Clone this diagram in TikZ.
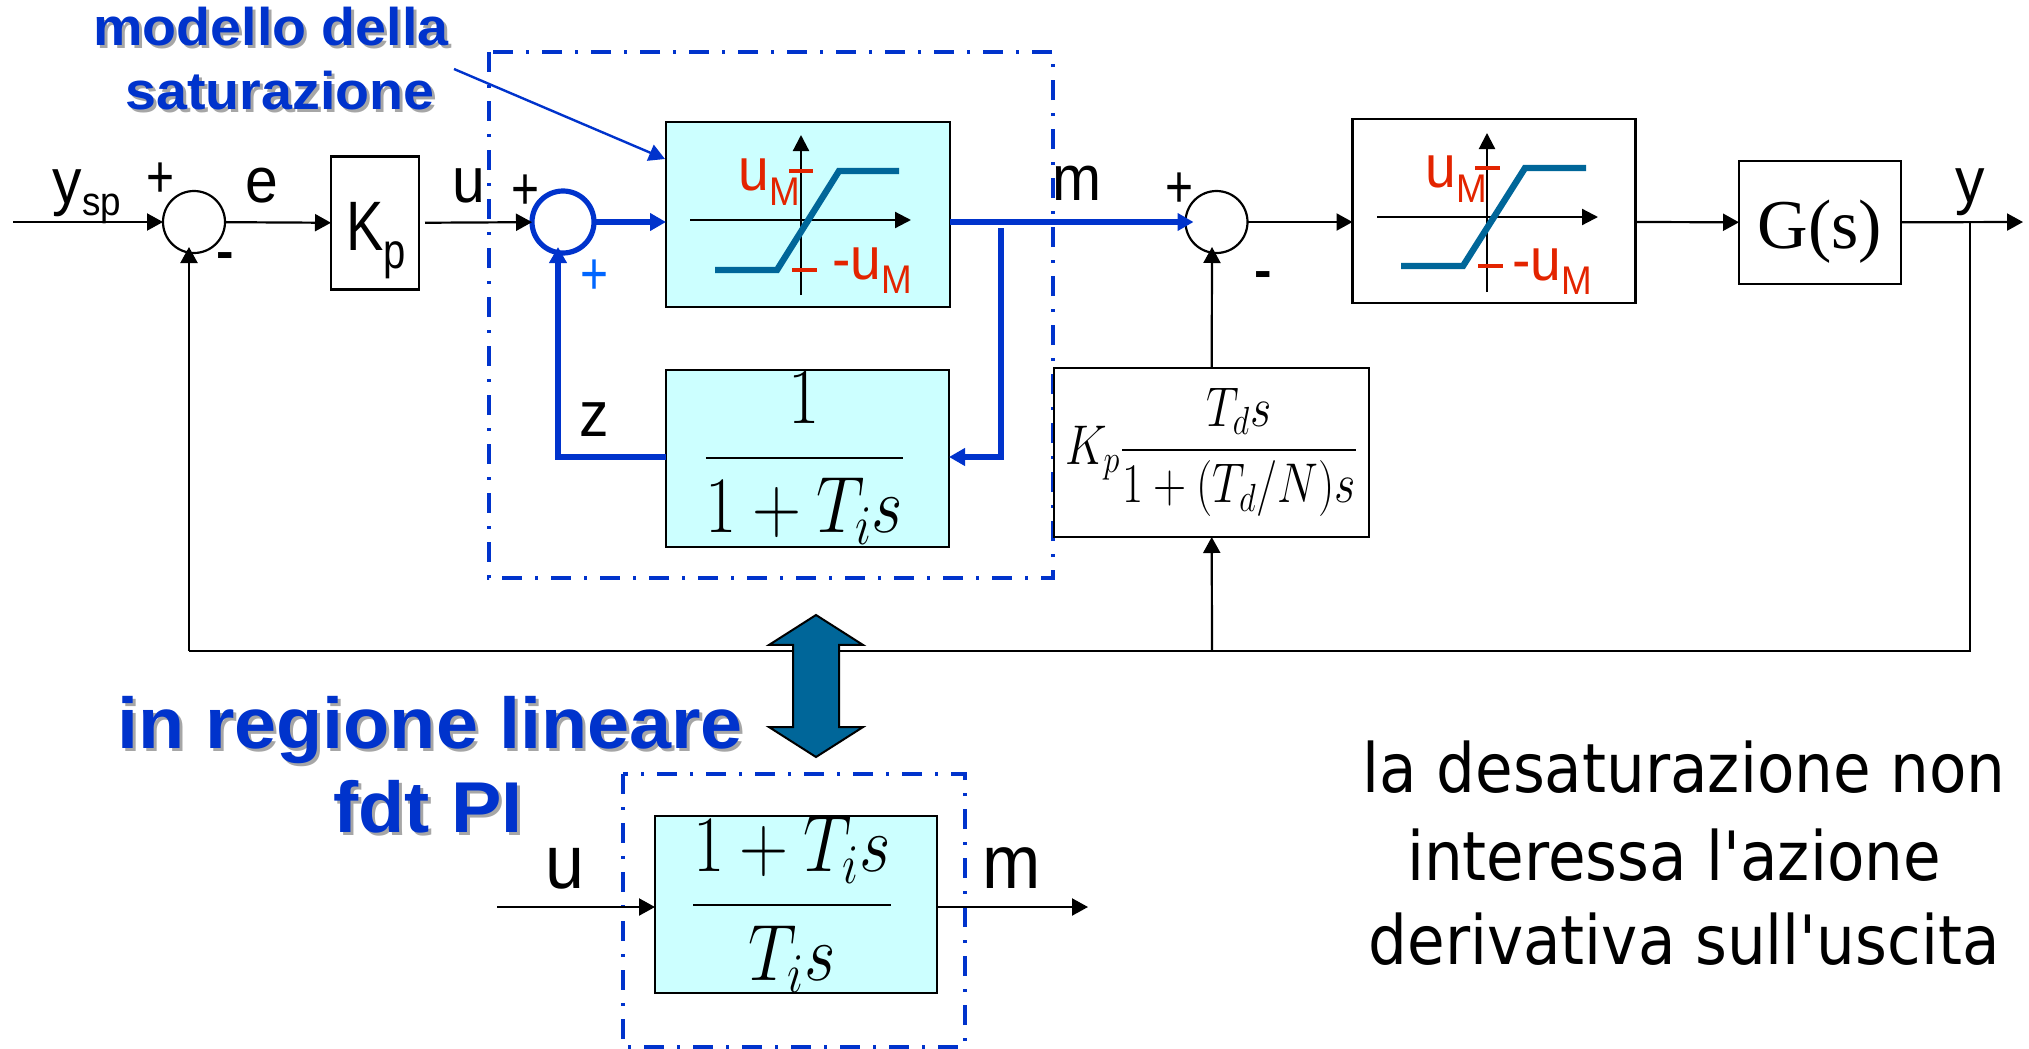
\documentclass[tikz,border=0pt]{standalone}
\usepackage{fix-cm}
\usepackage{exscale}
\usepackage{amsmath}
\usepackage{graphicx}
\usepackage{fontspec}
\newfontfamily\narrowf[FakeStretch=0.8]{Liberation Sans}
\newfontfamily\labf[FakeStretch=0.92]{Liberation Sans}
\newfontfamily\boldf[FakeStretch=1.05]{Liberation Sans Bold}
\newfontfamily\notef[FakeStretch=0.9]{DejaVu Sans}
\newfontfamily\gfont{Liberation Serif}
\usetikzlibrary{arrows.meta,shapes.arrows}
\definecolor{bluelab}{HTML}{0033CC}
\definecolor{cyanbox}{HTML}{CCFFFF}
\definecolor{curveblue}{HTML}{006699}
\definecolor{redlab}{HTML}{E32400}
\definecolor{plusblue}{HTML}{0066FF}
\newcommand{\shadowed}[1]{\rlap{\kern1.5pt\raisebox{-1.5pt}{\color{black!35}#1}}#1}
\newcommand{\sublab}[3]{#1\raisebox{#2}{\fontsize{20}{20}\selectfont #3}}
\newcommand{\mathbox}[3]{\raisebox{#1}{\scalebox{#2}[1]{$#3$}}}

\begin{document}
\begin{tikzpicture}[x=0.5pt,y=-0.5pt,>={Triangle[length=8pt,width=8.5pt]},
        wire/.style={line width=1.1pt,black},
        bluewire/.style={line width=3pt,bluelab},
        sumc/.style={circle,draw,line width=1.1pt,minimum size=31pt,inner sep=0pt,outer sep=0pt},
        block/.style={draw,line width=1.3pt,inner sep=0pt,outer sep=0pt},
        cyanblock/.style={block,fill=cyanbox},
        dashbox/.style={draw=bluelab,line width=1.7pt,dash pattern=on 10pt off 6.5pt on 1.5pt off 6.5pt},
        lab/.style={anchor=base,inner sep=0pt,font=\labf\fontsize{32}{32}\selectfont},
        biglab/.style={lab,font=\labf\fontsize{38}{38}\selectfont},
        sign/.style={lab,font=\narrowf\fontsize{30}{30}\selectfont},
        minus/.style={lab,font=\boldf\fontsize{25}{25}\selectfont},
        redtext/.style={lab,anchor=base west,text=redlab,font=\labf\fontsize{30}{30}\selectfont},
        title/.style={anchor=base,inner sep=0pt,text=bluelab,font=\boldf\fontsize{36}{36}\selectfont},
        smalltitle/.style={title,font=\boldf\fontsize{26.5}{26.5}\selectfont},
        note/.style={anchor=base,inner sep=0pt,font=\notef\fontsize{34}{34}\selectfont},
        plotaxis/.style={line width=1.1pt,->,>={Triangle[length=8pt,width=8pt]}},
        plotcurve/.style={line width=3.2pt,curveblue},
        plottick/.style={line width=1.6pt,draw=redlab},
        dbarrow/.style={double arrow,draw=black,line width=1pt,fill=curveblue,rotate=90,inner xsep=0pt,inner ysep=11pt,
            minimum height=71pt,double arrow head extend=12pt,double arrow tip angle=115},
    ]
        \useasboundingbox (0,0) rectangle (2029,1049);

        \draw[dashbox] (489,52) rectangle (1053,578);
        \draw[dashbox] (623,774) rectangle (965,1047);

        \node[sumc] at (194, 222)(s1){};
        \node[block,minimum width=44pt,minimum height=66.5pt] at (375, 223)(kp){};
        \node[sumc,draw=bluelab,line width=2.6pt] at (563, 222)(s2){};
        \node[cyanblock,minimum width=142pt,minimum height=92.5pt] at (808, 214.5)(sat1){};
        \node[cyanblock,minimum width=141.5pt,minimum height=88.5pt,font=\fontsize{40}{48}\selectfont] at (807.5, 458.5)(int){\mathbox{-2.5pt}{0.85}{\dfrac{1}{1+T_i s}}\kern3pt};
        \node[sumc] at (1216.5, 222)(s3){};
        \node[block,minimum width=157.5pt,minimum height=84.5pt,font=\fontsize{28}{34}\selectfont] at (1211.5, 452.5)(der){\mathbox{-3.5pt}{0.82}{K_p\dfrac{T_d s\rule[-2pt]{0pt}{2pt}}{1+(T_d/N)s}}};
        \node[block,minimum width=141.5pt,minimum height=92pt] at (1494, 211)(sat2){};
        \node[block,minimum width=81pt,minimum height=61.5pt,text height=26pt,text depth=0pt,font=\gfont\fontsize{35}{35}\selectfont] at (1820, 222.5)(g){G(s)};
        \node[cyanblock,minimum width=141pt,minimum height=88.5pt,font=\fontsize{40}{48}\selectfont] at (796, 904.5)(pi){\mathbox{-1.5pt}{0.85}{\dfrac{1+T_i s}{T_i s}}\kern4pt};

        \coordinate (in) at (13, 222);
        \coordinate (out) at (2023, 222);
        \coordinate (tap) at (1970, 222);
        \coordinate (fbr) at (1970, 651);
        \coordinate (fbl) at (189, 651);
        \coordinate (fbm) at (1212, 651);
        \coordinate (s1in) at (189, 247);
        \coordinate (s3in) at (1212, 247);
        \coordinate (zin) at (558, 247);
        \coordinate (zc) at (558, 457);
        \coordinate (zr) at (int.west |- zc);
        \coordinate (tapm) at (1001, 228);
        \coordinate (tapb) at (1001, 457);
        \coordinate (tapi) at (int.east |- tapb);
        \coordinate (sat1out) at (sat1.east |- s2);
        \coordinate (sat1in) at (sat1.west |- s2);
        \coordinate (sat2in) at (sat2.west |- s3);
        \coordinate (sat2out) at (sat2.east |- s3);
        \coordinate (piin) at (497, 907);
        \coordinate (pil) at (pi.west |- piin);
        \coordinate (pir) at (pi.east |- piin);
        \coordinate (piout) at (1088, 907);
        \coordinate (notestart) at (454, 69);
        \coordinate (noteend) at (665, 159);

        \path[->,wire]
        (in)edge(s1)
        (s1)edge(kp)
        (kp)edge[shorten <=3pt](s2)
        (s3)edge(sat2in)
        (sat2out)edge(g)
        (g)edge(out)
        (fbl)edge(s1in)
        (fbm)edge(der)
        (der)edge(s3in)
        (piin)edge(pil)
        (pir)edge(piout)
        ;
        \draw[wire] (tap) -- (fbr) -- (fbl);
        \path[->,bluewire]
        (s2)edge(sat1in)
        (sat1out)edge[shorten >=-4pt](s3)
        ;
        \draw[->,bluewire] (zr) -- (zc) -- (zin);
        \draw[->,bluewire] (tapm) -- (tapb) -- (tapi);
        \draw[->,line width=1.2pt,bluelab] (notestart) -- (noteend);

        % saturation, first block
        \draw[plotaxis] (801,295) -- (801,135);
        \draw[plotaxis] (690,220) -- (911,220);
        \draw[plotcurve] (715,270) -- (777,270) -- (839,171) -- (899,171);
        \draw[plottick] (789,171) -- (813,171);
        \draw[plottick] (792,270) -- (817,270);
        \node[redtext] at (738, 190)(um1){\sublab{u}{-7.5pt}{M}};
        \node[redtext] at (832, 279)(lm1){\sublab{-u}{-7pt}{M}};

        % saturation, second block
        \draw[plotaxis] (1487,292) -- (1487,133);
        \draw[plotaxis] (1377,217) -- (1598,217);
        \draw[plotcurve] (1401,266) -- (1463,266) -- (1525,168) -- (1586,168);
        \draw[plottick] (1475,168) -- (1500,168);
        \draw[plottick] (1478,266) -- (1503,266);
        \node[redtext] at (1425, 187)(um2){\sublab{u}{-7.5pt}{M}};
        \node[redtext] at (1512, 280)(lm2){\sublab{-u}{-7pt}{M}};

        \node[dbarrow] at (816, 686)(da){};

        \node[lab] at (87, 203)(ysp){\sublab{y}{-6pt}{sp}};
        \node[lab] at (262, 202)(e){e};
        \node[lab] at (469, 202)(u){u};
        \node[lab] at (1077, 200)(m){m};
        \node[lab] at (594, 436)(z){z};
        \node[lab] at (1970, 202)(y){y};
        \node[lab,anchor=base west,font=\narrowf\fontsize{35}{35}\selectfont] at (346, 250)(kptext){K\raisebox{-9pt}{\fontsize{25}{25}\selectfont p}};
        \node[biglab] at (565, 888)(u2){u};
        \node[biglab] at (1012, 888)(m2){m};

        \node[sign] at (161, 197)(p1){+};
        \node[sign] at (526, 209)(p2){+};
        \node[sign] at (1180, 207)(p3){+};
        \node[sign,text=plusblue] at (595, 294)(p4){+};
        \node[minus] at (225, 268.5)(n1){-};
        \node[minus] at (1263, 287)(n2){-};

        \node[smalltitle] at (271, 46)(t1){\shadowed{modello della}};
        \node[smalltitle] at (280, 109)(t2){\shadowed{saturazione}};
        \node[title] at (430, 748)(t3){\shadowed{in regione lineare}};
        \node[title] at (428, 832)(t4){\shadowed{fdt PI}};

        \node[note] at (1684, 792)(n3){la desaturazione non};
        \node[note] at (1674, 880)(n4){interessa l'azione};
        \node[note] at (1684, 964)(n5){derivativa sull'uscita};
    \end{tikzpicture}
\end{document}
